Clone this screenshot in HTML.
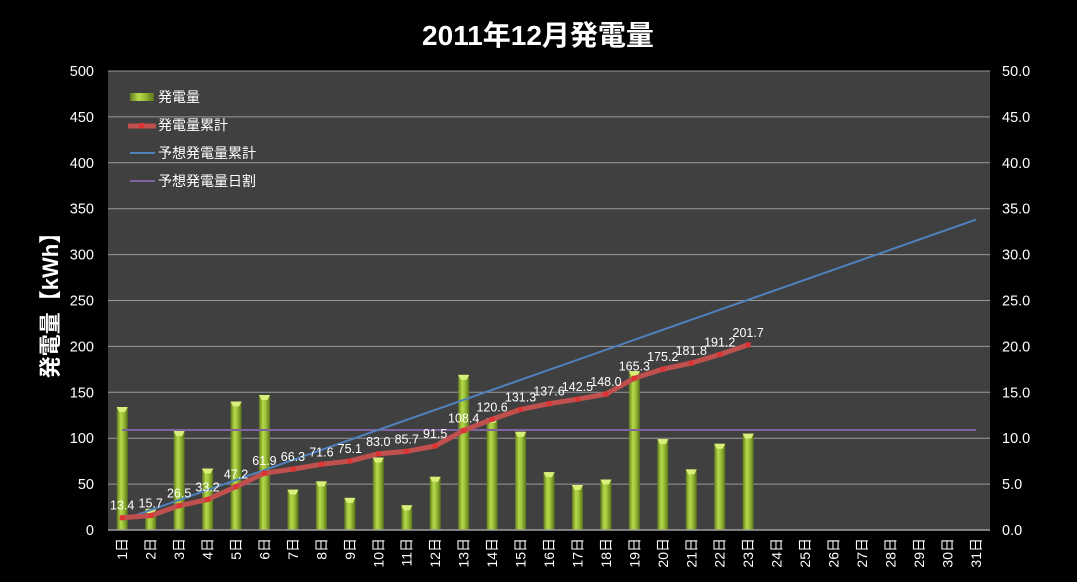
<!DOCTYPE html>
<html><head><meta charset="utf-8"><style>
html,body{margin:0;padding:0;background:#000;}
svg{display:block;font-family:"Liberation Sans","Noto Sans CJK JP",sans-serif;}
</style></head><body>
<svg id="chart" width="1077" height="582" viewBox="0 0 1077 582" xmlns="http://www.w3.org/2000/svg">
<defs>
<linearGradient id="barg" x1="0" x2="1" y1="0" y2="0">
<stop offset="0" stop-color="#5f7a1c"/><stop offset="0.35" stop-color="#b5d94a"/><stop offset="0.6" stop-color="#9cc23a"/><stop offset="1" stop-color="#5a7418"/>
</linearGradient>
</defs>
<rect x="0" y="0" width="1077" height="582" fill="#000"/>
<text x="538" y="45" text-anchor="middle" fill="#fff" font-size="28" font-weight="bold">2011年12月発電量</text>
<rect x="108" y="71" width="882" height="459" fill="#404040"/>
<g id="grid"></g><g id="bars"></g><g id="lines"></g><g id="labels"></g><g id="axes"></g>
<text transform="translate(58,300) rotate(-90)" text-anchor="middle" fill="#fff" font-size="22" font-weight="bold">発電量【kWh】</text>
<g font-size="14" fill="#fff">
<rect x="130" y="93" width="24" height="8" fill="url(#barg)"/>
<text x="158" y="102">発電量</text>
<line x1="128" y1="126" x2="156" y2="126" stroke="#c0504d" stroke-width="5"/>
<rect x="139" y="123" width="5" height="5" fill="#d33"/>
<text x="158" y="130">発電量累計</text>
<line x1="130" y1="153" x2="155" y2="153" stroke="#4f81bd" stroke-width="2"/>
<text x="158" y="158">予想発電量累計</text>
<line x1="130" y1="181" x2="155" y2="181" stroke="#8064a2" stroke-width="2"/>
<text x="158" y="186">予想発電量日割</text>
</g>
</svg>
<script>
const categories = Array.from({length:31},(_,i)=>(i+1)+'日');
const dailyValues = [13.4,2.3,10.8,6.7,14.0,14.7,4.4,5.3,3.5,7.9,2.7,5.8,16.9,12.2,10.7,6.3,4.9,5.5,17.3,9.9,6.6,9.4,10.5];
const cumulativeValues = [13.4,15.7,26.5,33.2,47.2,61.9,66.3,71.6,75.1,83.0,85.7,91.5,108.4,120.6,131.3,137.6,142.5,148.0,165.3,175.2,181.8,191.2,201.7];
const forecastCumulative = [10.9,338];
const forecastDaily = 10.9;
const leftTicks = [0,50,100,150,200,250,300,350,400,450,500];
const rightTicks = ['0.0','5.0','10.0','15.0','20.0','25.0','30.0','35.0','40.0','45.0','50.0'];

const NS='http://www.w3.org/2000/svg';
const X0=108,X1=990,Y0=530,Y1=71;
const bw=(X1-X0)/categories.length;
const xc=i=>X0+bw*(i+0.5);
const yL=v=>Y0-(v/500)*(Y0-Y1);
const yR=v=>Y0-(v/50)*(Y0-Y1);
function mk(tag,attrs,parent,text){const e=document.createElementNS(NS,tag);for(const k in attrs)e.setAttribute(k,attrs[k]);if(text!==undefined)e.textContent=text;document.getElementById(parent).appendChild(e);return e;}

leftTicks.forEach((t,i)=>{
  const y=yL(t);
  if(i>0){const g=mk('line',{x1:X0,x2:X1,y1:y,y2:y,stroke:'#999','stroke-width':1},'grid');
  
  }
  const l=mk('text',{x:94,y:y+5,'text-anchor':'end',fill:'#fff','font-size':14.5},'axes',String(t));
  
  
  const r=mk('text',{x:1002,y:y+5,fill:'#fff','font-size':14.5},'axes',rightTicks[i]);
  
  
});
const ax=mk('line',{x1:X0,x2:X1,y1:Y0,y2:Y0,stroke:'#a0a0a0','stroke-width':1.5},'axes');


categories.forEach((c,i)=>{
  const t=mk('text',{transform:`translate(${xc(i)+5},${538}) rotate(-90)`,'text-anchor':'end',fill:'#fff','font-size':14},'axes',c);
  
  
});
dailyValues.forEach((v,i)=>{
  const y=yR(v);
  const b=mk('rect',{x:xc(i)-5.5,y:y,width:11,height:Y0-y,fill:'url(#barg)'},'bars');
  
  
  const tp=mk('polygon',{points:`${xc(i)-5.5},${y} ${xc(i)+5.5},${y} ${xc(i)+3},${y+5} ${xc(i)-3},${y+5}`,fill:'#d8f07a'},'bars');
  
  
});
const fd=mk('line',{x1:xc(0),x2:xc(30),y1:yR(forecastDaily),y2:yR(forecastDaily),stroke:'#8064a2','stroke-width':2},'lines');


const fc=mk('line',{x1:xc(0),x2:xc(30),y1:yL(forecastCumulative[0]),y2:yL(forecastCumulative[1]),stroke:'#4f81bd','stroke-width':2},'lines');


const pts=cumulativeValues.map((v,i)=>xc(i)+','+yL(v)).join(' ');
const cl=mk('polyline',{points:pts,fill:'none',stroke:'#c0504d','stroke-width':5,'stroke-linejoin':'round'},'lines');


cumulativeValues.forEach((v,i)=>{
  const m=mk('rect',{x:xc(i)-2.5,y:yL(v)-2.5,width:5,height:5,fill:'#d33'},'lines');
  
  
  const t=mk('text',{x:xc(i),y:yL(v)-8,'text-anchor':'middle',fill:'#fff','font-size':12.5},'labels',v.toFixed(1));
  
  
});
</script>
</body></html>
